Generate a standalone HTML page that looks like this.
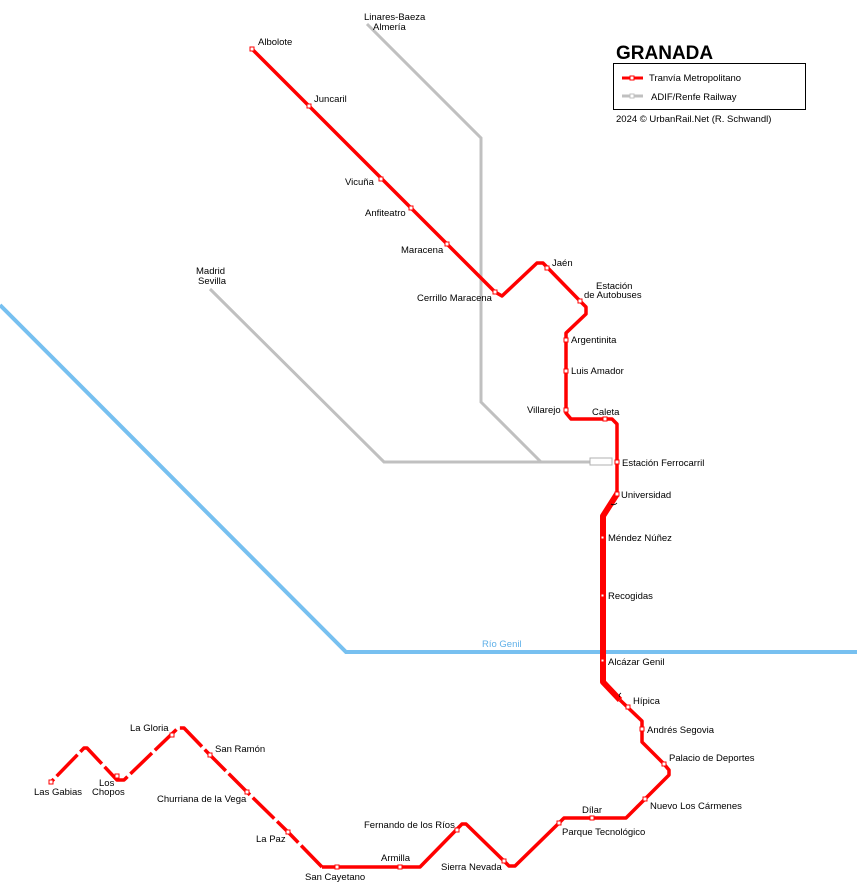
<!DOCTYPE html>
<html><head><meta charset="utf-8"><style>
html,body{margin:0;padding:0;background:#fff}
svg{display:block}
text{font-family:"Liberation Sans",sans-serif;font-size:9.5px;fill:#000}
</style></head><body>
<svg width="857" height="889" viewBox="0 0 857 889" xmlns="http://www.w3.org/2000/svg">
<polyline points="0,305 346,652 857,652" fill="none" stroke="#77c0f0" stroke-width="4"/>
<text x="482" y="647" style="fill:#5fb0e8">Río Genil</text>
<g fill="none" stroke="#c0c0c0" stroke-width="3">
<polyline points="367,24 481,138 481,402 541,462"/>
<polyline points="210,289 384,462 590,462"/>
</g>
<rect x="590" y="458" width="22" height="7" fill="#fff" stroke="#b0b0b0" stroke-width="1"/>
<g fill="none" stroke="#f00" stroke-linejoin="round">
<polyline stroke-width="3.5" points="252,49 495,292 502,296 537,263 543,263 580,301 586,307 586,314 566,333 566,413 571,419 612,419 617,424 617,494"/>
<polyline stroke-width="6" points="617,494 603,516 603,682 620,700"/>
<polyline stroke-width="3.5" points="620,700 642,721 642,742 664,764 669,770 669,775 645,799 626,818 564,818 559,823 515,866 509,866 504,861 466,824 462,824 420,867 322,867"/>
<polyline stroke-width="3.5" stroke-dasharray="30,4" points="322,867 288,832 247,792 210,755 184,728 178,728 124,780 117,780 87,748 84,748 51,782"/>
</g>
<g fill="#fff" stroke="#f00" stroke-width="1">
<rect x="250" y="47" width="4" height="4"/><rect x="307" y="104" width="4" height="4"/>
<rect x="379" y="177" width="4" height="4"/><rect x="409" y="206" width="4" height="4"/>
<rect x="445" y="242" width="4" height="4"/><rect x="493" y="290" width="4" height="4"/>
<rect x="545" y="266" width="4" height="4"/><rect x="578" y="299" width="4" height="4"/>
<rect x="564" y="338" width="4" height="4"/><rect x="564" y="369" width="4" height="4"/>
<rect x="564" y="408" width="4" height="4"/><rect x="603" y="417" width="4" height="4"/>
<rect x="615" y="460" width="4" height="4"/><rect x="615" y="492" width="4" height="4"/>
<rect x="601" y="536" width="3" height="3"/><rect x="601" y="594" width="3" height="3"/>
<rect x="601" y="659" width="3" height="3"/>
<rect x="626" y="705" width="4" height="4"/><rect x="640" y="727" width="4" height="4"/>
<rect x="662" y="762" width="4" height="4"/><rect x="643" y="797" width="4" height="4"/>
<rect x="590" y="816" width="4" height="4"/><rect x="557" y="821" width="4" height="4"/>
<rect x="502" y="859" width="4" height="4"/><rect x="455" y="828" width="4" height="4"/>
<rect x="398" y="865" width="4" height="4"/><rect x="335" y="865" width="4" height="4"/>
<rect x="286" y="830" width="4" height="4"/><rect x="245" y="790" width="4" height="4"/>
<rect x="208" y="753" width="4" height="4"/><rect x="170" y="733" width="4" height="4"/>
<rect x="115" y="774" width="4" height="4"/><rect x="49" y="780" width="4" height="4"/>
</g>
<text x="258" y="45">Albolote</text>
<text x="314" y="102">Juncaril</text>
<text x="345" y="185">Vicuña</text>
<text x="365" y="216">Anfiteatro</text>
<text x="401" y="253">Maracena</text>
<text x="417" y="301">Cerrillo Maracena</text>
<text x="552" y="266">Jaén</text>
<text x="596" y="289">Estación</text>
<text x="584" y="298">de Autobuses</text>
<text x="571" y="343">Argentinita</text>
<text x="571" y="374">Luis Amador</text>
<text x="527" y="413">Villarejo</text>
<text x="592" y="415">Caleta</text>
<text x="622" y="466">Estación Ferrocarril</text>
<text x="621" y="498">Universidad</text>
<text x="608" y="541">Méndez Núñez</text>
<text x="608" y="599">Recogidas</text>
<text x="608" y="665">Alcázar Genil</text>
<text x="633" y="704">Hípica</text>
<text x="647" y="733">Andrés Segovia</text>
<text x="669" y="761">Palacio de Deportes</text>
<text x="650" y="809">Nuevo Los Cármenes</text>
<text x="582" y="813">Dílar</text>
<text x="562" y="835">Parque Tecnológico</text>
<text x="441" y="870">Sierra Nevada</text>
<text x="364" y="828">Fernando de los Ríos</text>
<text x="381" y="861">Armilla</text>
<text x="305" y="880">San Cayetano</text>
<text x="256" y="842">La Paz</text>
<text x="157" y="802">Churriana de la Vega</text>
<text x="215" y="752">San Ramón</text>
<text x="130" y="731">La Gloria</text>
<text x="99" y="786">Los</text>
<text x="92" y="795">Chopos</text>
<text x="34" y="795">Las Gabias</text>
<text x="364" y="20">Linares-Baeza</text>
<text x="373" y="30">Almería</text>
<text x="196" y="274">Madrid</text>
<text x="198" y="284">Sevilla</text>
<path d="M611,504 q3,2 6,-1 M620,697 q-2,-2 1,-4" fill="none" stroke="#000" stroke-width="0.8"/>
<text x="616" y="59" style="font-size:19px;font-weight:bold">GRANADA</text>
<rect x="613.5" y="63.5" width="192" height="46" fill="none" stroke="#000" stroke-width="1"/>
<line x1="622" y1="78" x2="643" y2="78" stroke="#f00" stroke-width="3"/>
<rect x="630" y="76" width="4" height="4" fill="#fff" stroke="#f00"/>
<text x="649" y="81">Tranvía Metropolitano</text>
<line x1="622" y1="96" x2="643" y2="96" stroke="#c0c0c0" stroke-width="3"/>
<rect x="630" y="94" width="4" height="4" fill="#fff" stroke="#c0c0c0"/>
<text x="651" y="100">ADIF/Renfe Railway</text>
<text x="616" y="122">2024 © UrbanRail.Net (R. Schwandl)</text>
</svg>
</body></html>
